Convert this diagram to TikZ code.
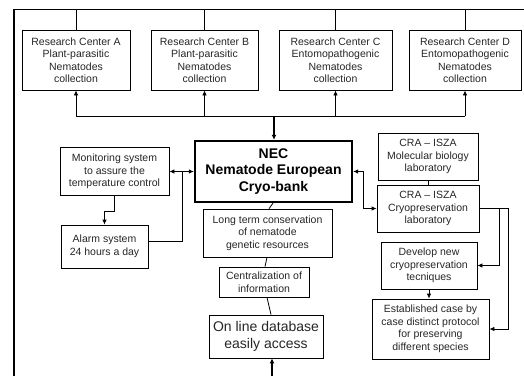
\documentclass[tikz,border=0pt]{standalone}
\usepackage{fontspec}
\setmainfont{Liberation Sans}
\usetikzlibrary{arrows.meta}
\begin{document}
\begin{tikzpicture}[x=1pt,y=1pt,
  box/.style={draw, line width=0.8pt, inner sep=0pt, align=center, text=black!85,
    font=\fontsize{10.5}{12.5}\selectfont},
  conn/.style={line width=0.8pt},
  arr/.style={conn, -{Latex[length=5pt,width=4.5pt]}},
  arrtwo/.style={conn, {Latex[length=5pt,width=4.5pt]}-{Latex[length=5pt,width=4.5pt]}},
  thickarr/.style={line width=1.8pt, -{Latex[length=5pt,width=5pt]}}
]
\useasboundingbox (0,0) rectangle (524,376);
% frame
\coordinate (tl) at (14,367);
\coordinate (tr) at (524,367);
\coordinate (bl) at (14,0);
\draw[line width=0.8pt] (tl) -- (tr);
\draw[line width=2pt] (bl) -- (14,367.4);
% top row
\node[box, minimum width=108pt, minimum height=60pt] (A) at (76,316) {Research Center A\\Plant-parasitic\\Nematodes\\collection};
\node[box, minimum width=107pt, minimum height=60pt] (B) at (204.5,316) {Research Center B\\Plant-parasitic\\Nematodes\\collection};
\node[box, minimum width=113pt, minimum height=60pt] (C) at (335.5,316) {Research Center C\\Entomopathogenic\\Nematodes\\collection};
\node[box, minimum width=112pt, minimum height=60pt] (D) at (465,316) {Research Center D\\Entomopathogenic\\Nematodes\\collection};
\foreach \n in {A,B,C,D} {\draw[conn] (\n.north) -- (\n.north |- tl);}
% bus
\coordinate (bus) at (274,260);
\draw[conn] (A.south |- bus) -- (D.south |- bus);
\foreach \n in {A,B,C,D} {\draw[arr] (\n.south |- bus) -- (\n.south);}
% NEC
\node[draw, line width=2.4pt, inner sep=0pt, align=center, minimum width=157pt, minimum height=61pt,
  font=\bfseries\fontsize{14}{16.5}\selectfont] (NEC) at (273.5,204.5) {NEC\\Nematode European\\Cryo-bank};
\draw[thickarr] (bus) -- (bus |- NEC.north);
% left side
\node[box, minimum width=109pt, minimum height=48pt] (Mon) at (114.5,204.5) {Monitoring system\\to assure the\\temperature control};
\node[box, minimum width=87pt, minimum height=43pt] (Alarm) at (104.5,129.5) {Alarm system\\24 hours a day};
\draw[arr] (Mon.south) -- ++(0,-15) -| (Alarm.north);
\draw[arrtwo] (Mon.east) -- (NEC.west);
\coordinate (lj) at (182,204.5);
\draw[conn] ([yshift=5.5pt]Alarm.east) -| (lj);
% right side
\node[box, minimum width=100pt, minimum height=47pt] (Mol) at (428,219.5) {CRA – ISZA\\Molecular biology\\laboratory};
\node[box, minimum width=102pt, minimum height=47pt] (Cryo) at (428,167.5) {CRA – ISZA\\Cryopreservation\\laboratory};
\draw[conn] (Mol.south) -- (Cryo.north);
\draw[arrtwo] (NEC.east) -- ++(10,0) |- (Cryo.west);
\node[box, minimum width=96pt, minimum height=47pt] (Dev) at (429,110.5) {Develop new\\cryopreservation\\tecniques};
\node[box, minimum width=117pt, minimum height=60pt] (Est) at (430.5,47) {Established case by\\case distinct protocol\\for preserving\\different species};
\draw[arr] (Cryo.east) -- ++(20,0) |- (Dev.east);
\draw[arr] (Cryo.east) -- ++(29,0) |- (Est.east);
\draw[arr] (Dev.south) -- (Dev.south |- Est.north);
% centre column
\node[box, minimum width=129pt, minimum height=48pt] (LT) at (267.5,143) {Long term conservation\\of nematode\\genetic resources};
\node[box, minimum width=90pt, minimum height=30pt] (Cent) at (264,94) {Centralization of\\information};
\node[box, minimum width=114pt, minimum height=43pt, font=\fontsize{14}{16.5}\selectfont] (Onl) at (266,39.5) {On line database\\easily access};
\draw[conn] ([xshift=-0.5pt]NEC.south) -- ([xshift=1.5pt]LT.north);
\draw[conn] ([xshift=-0.5pt]LT.south) -- ([xshift=1pt]Cent.north);
\draw[conn] ([xshift=3pt]Cent.south) -- ([xshift=5pt]Onl.north);
\coordinate (bot) at (272,0);
\draw[thickarr] (bot) -- (bot |- Onl.south);
\end{tikzpicture}
\end{document}
